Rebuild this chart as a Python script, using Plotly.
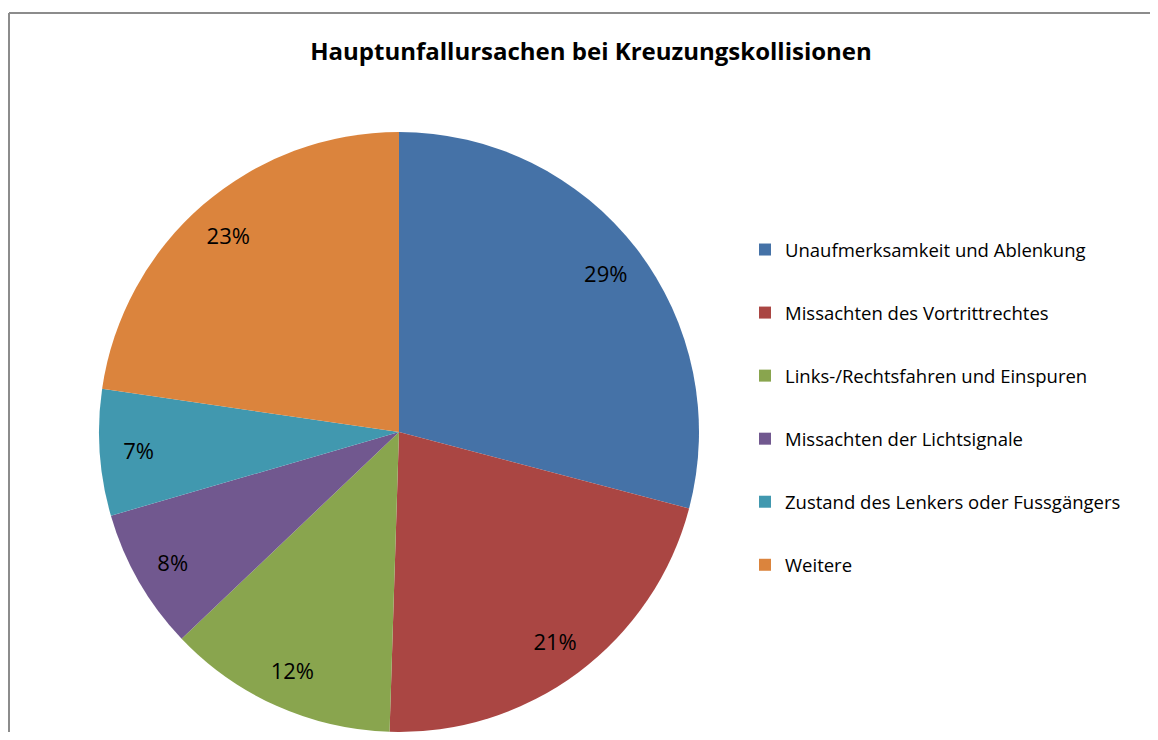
import plotly.graph_objects as go

# Hauptunfallursachen bei Kreuzungskollisionen (Anteile in %)
labels = [
    "Unaufmerksamkeit und Ablenkung",
    "Missachten des Vortrittrechtes",
    "Links-/Rechtsfahren und Einspuren",
    "Missachten der Lichtsignale",
    "Zustand des Lenkers oder Fussgängers",
    "Weitere",
]
values = [29.1, 21.4, 12.4, 7.6, 6.8, 22.7]
colors = ["#4572A7", "#AA4643", "#89A54E", "#71588F", "#4198AF", "#DB843D"]

# page body has an 8px margin, so the figure is smaller and shifted by 8px
W, H = 1150, 724
FONT = "'Open Sans', sans-serif"
dom = dict(x=[91 / W, 691 / W], y=[0, 600 / H])

fig = go.Figure()
fig.add_trace(go.Pie(
    labels=labels, values=values, sort=False, direction="clockwise",
    rotation=0, marker=dict(colors=colors, line=dict(width=0)),
    textinfo="none", domain=dom, showlegend=False,
    hoverinfo="label+percent",
))
# transparent ring on top only to place the percent labels near the rim
fig.add_trace(go.Pie(
    labels=labels, values=values, sort=False, direction="clockwise",
    rotation=0, hole=0.74,
    marker=dict(colors=["rgba(0,0,0,0)"] * len(values), line=dict(width=0)),
    texttemplate="%{percent:.0%}", textposition="inside",
    insidetextorientation="horizontal",
    textfont=dict(size=22, color="black", family=FONT),
    domain=dom, showlegend=False, hoverinfo="skip",
))

# legend entries as dummy traces so the row spacing can be controlled
for lab, col in zip(labels, colors):
    fig.add_trace(go.Scatter(
        x=[None], y=[None], mode="markers", name=lab, legendgroup=lab,
        marker=dict(symbol="square", size=12, color=col),
    ))

# chart frame: only the top and left edges are inside the picture
frame = dict(color="#8c8c8c", width=2)
fig.update_layout(
    width=W, height=H,
    margin=dict(l=0, r=0, t=0, b=0),
    paper_bgcolor="white", plot_bgcolor="white",
    title=dict(text="<b>Hauptunfallursachen bei Kreuzungskollisionen</b>",
               x=583 / W, xanchor="center", y=1 - 44 / H, yanchor="middle",
               font=dict(size=24, color="black", family=FONT)),
    xaxis=dict(visible=False), yaxis=dict(visible=False),
    legend=dict(x=737 / W, xanchor="left", y=1 - 223 / H, yanchor="top",
                font=dict(size=18.5, color="black", family=FONT),
                tracegroupgap=36, itemclick=False, bgcolor="rgba(0,0,0,0)"),
    shapes=[
        dict(type="line", xref="paper", yref="paper",
             x0=1 / W, x1=1, y0=1 - 5 / H, y1=1 - 5 / H, line=frame,
             layer="below"),
        dict(type="line", xref="paper", yref="paper",
             x0=1 / W, x1=1 / W, y0=0, y1=1 - 5 / H, line=frame,
             layer="below"),
    ],
)

fig.write_html("out.html")
